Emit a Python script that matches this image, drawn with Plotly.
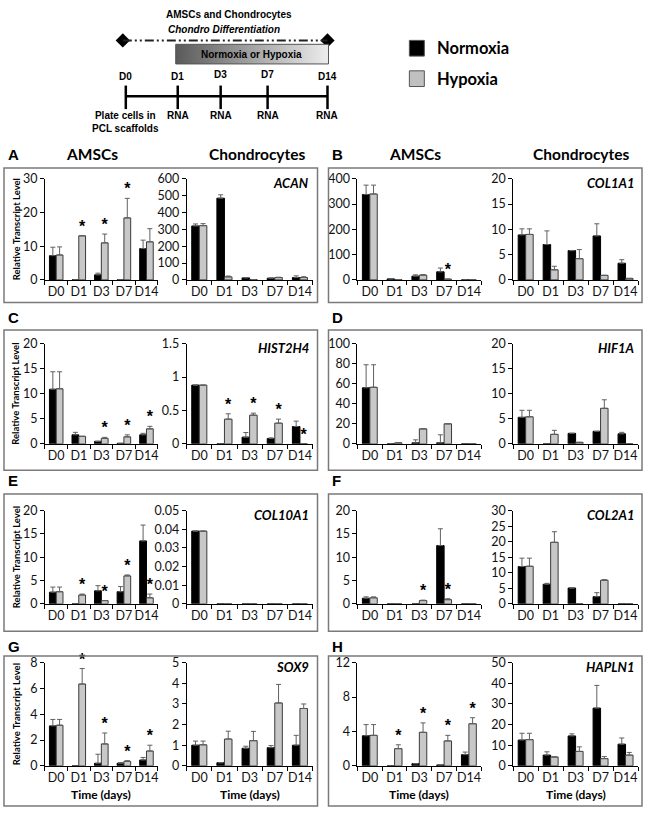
import plotly.graph_objects as go

W, H = 648, 817
days = ["D0", "D1", "D3", "D7", "D14"]

# ---------------- DATA ----------------
# A  ACAN
ACAN_amsc_norm = [7.2, 0, 1.5, 0, 9.3]
ACAN_amsc_norm_err = [2.5, 0, 0.5, 0, 2.5]
ACAN_amsc_hyp = [7.4, 13.1, 11.0, 18.4, 11.3]
ACAN_amsc_hyp_err = [2.4, 0, 2.6, 5.8, 3.9]
ACAN_amsc_sig = [1, 2, 3]
ACAN_chon_norm = [320, 485, 12, 10, 14]
ACAN_chon_norm_err = [12, 20, 2, 2, 10]
ACAN_chon_hyp = [322, 18, 2, 14, 14]
ACAN_chon_hyp_err = [12, 5, 0, 2, 5]
ACAN_chon_sig = []

# B  COL1A1
COL1A1_amsc_norm = [338, 4, 15, 32, 0]
COL1A1_amsc_norm_err = [37, 0, 5, 15, 0]
COL1A1_amsc_hyp = [340, 1, 19, 3, 0]
COL1A1_amsc_hyp_err = [35, 0, 2, 0, 0]
COL1A1_amsc_sig = [3]
COL1A1_chon_norm = [8.9, 7.0, 5.8, 8.7, 3.3]
COL1A1_chon_norm_err = [1.2, 2.7, 0, 2.4, 0.7]
COL1A1_chon_hyp = [9.0, 2.0, 4.2, 0.9, 0.3]
COL1A1_chon_hyp_err = [1.1, 0.7, 1.8, 0, 0]
COL1A1_chon_sig = []

# C  HIST2H4
HIST2H4_amsc_norm = [10.9, 1.8, 0.5, 0.1, 1.8]
HIST2H4_amsc_norm_err = [3.5, 0.5, 0, 0, 0.3]
HIST2H4_amsc_hyp = [11.0, 1.5, 1.1, 1.4, 3.0]
HIST2H4_amsc_hyp_err = [3.4, 0, 0.2, 0.4, 0.5]
HIST2H4_amsc_sig = [2, 3, 4]
HIST2H4_chon_norm = [0.88, 0, 0.1, 0.08, 0.26]
HIST2H4_chon_norm_err = [0, 0, 0.07, 0.01, 0.08]
HIST2H4_chon_hyp = [0.88, 0.37, 0.43, 0.31, 0]
HIST2H4_chon_hyp_err = [0, 0.08, 0.03, 0.06, 0]
HIST2H4_chon_sig = [1, 2, 3, 4]

# D  HIF1A
HIF1A_amsc_norm = [56, 0, 1, 1, 0]
HIF1A_amsc_norm_err = [23, 0, 3, 8, 0]
HIF1A_amsc_hyp = [56.5, 1, 15, 20, 0]
HIF1A_amsc_hyp_err = [22.5, 0, 0, 0, 0]
HIF1A_amsc_sig = []
HIF1A_chon_norm = [5.3, 0, 2.1, 2.5, 2.0]
HIF1A_chon_norm_err = [1.4, 0, 0, 0, 0.3]
HIF1A_chon_hyp = [5.4, 1.9, 0.3, 7.1, 0]
HIF1A_chon_hyp_err = [1.3, 0.8, 0, 1.7, 0]
HIF1A_chon_sig = []

# E  COL10A1
COL10A1_amsc_norm = [2.5, 0, 2.8, 2.6, 13.5]
COL10A1_amsc_norm_err = [1.1, 0, 1.1, 1.1, 3.4]
COL10A1_amsc_hyp = [2.6, 1.9, 0.7, 6.0, 1.3]
COL10A1_amsc_hyp_err = [1.0, 0.2, 0, 0.2, 0.8]
COL10A1_amsc_sig = [1, 2, 3, 4]
COL10A1_chon_norm = [0.039, 0, 0, 0, 0]
COL10A1_chon_norm_err = [0, 0, 0, 0, 0]
COL10A1_chon_hyp = [0.039, 0, 0, 0, 0]
COL10A1_chon_hyp_err = [0, 0, 0, 0, 0]
COL10A1_chon_sig = []

# F  COL2A1
COL2A1_amsc_norm = [1.2, 0, 0, 12.5, 0]
COL2A1_amsc_norm_err = [0.3, 0, 0, 3.6, 0]
COL2A1_amsc_hyp = [1.3, 0, 0.7, 0.9, 0]
COL2A1_amsc_hyp_err = [0.2, 0, 0.1, 0.2, 0]
COL2A1_amsc_sig = [2, 3]
COL2A1_chon_norm = [12.0, 6.3, 5.1, 2.3, 0]
COL2A1_chon_norm_err = [2.7, 0.3, 0, 1.3, 0]
COL2A1_chon_hyp = [12.1, 19.8, 0, 7.6, 0]
COL2A1_chon_hyp_err = [2.6, 3.4, 0, 0.2, 0]
COL2A1_chon_sig = []

# G  SOX9
SOX9_amsc_norm = [3.1, 0, 0.2, 0.2, 0.45]
SOX9_amsc_norm_err = [0.5, 0, 0.7, 0.05, 0.2]
SOX9_amsc_hyp = [3.15, 6.35, 1.7, 0.35, 1.15]
SOX9_amsc_hyp_err = [0.45, 1.2, 0.85, 0.05, 0.45]
SOX9_amsc_sig = [1, 2, 3, 4]
SOX9_chon_norm = [1.0, 0.15, 0.85, 0.88, 1.0]
SOX9_chon_norm_err = [0.2, 0, 0.1, 0.1, 0.48]
SOX9_chon_hyp = [1.02, 1.3, 1.22, 3.05, 2.78]
SOX9_chon_hyp_err = [0.18, 0.38, 0.45, 0.9, 0.22]
SOX9_chon_sig = []

# H  HAPLN1
HAPLN1_amsc_norm = [3.5, 0, 0.25, 0.1, 1.3]
HAPLN1_amsc_norm_err = [1.3, 0, 0, 0, 0.3]
HAPLN1_amsc_hyp = [3.55, 2.0, 3.9, 2.9, 4.9]
HAPLN1_amsc_hyp_err = [1.25, 0.45, 1.1, 0.65, 0.7]
HAPLN1_amsc_sig = [1, 2, 3, 4]
HAPLN1_chon_norm = [12.5, 5.2, 14.5, 28, 10.5]
HAPLN1_chon_norm_err = [3.3, 1.6, 1.0, 11, 3.0]
HAPLN1_chon_hyp = [12.7, 4.3, 7.0, 3.5, 5.2]
HAPLN1_chon_hyp_err = [3.1, 0, 2.2, 1.0, 1.3]
HAPLN1_chon_sig = []

# axis maxima / steps
axis_max = {"ACAN": (30, 600), "COL1A1": (400, 20), "HIST2H4": (20, 1.5), "HIF1A": (100, 20),
            "COL10A1": (20, 0.05), "COL2A1": (20, 30), "SOX9": (8, 5), "HAPLN1": (12, 50)}
axis_step = {"ACAN": (10, 100), "COL1A1": (100, 5), "HIST2H4": (5, 0.5), "HIF1A": (20, 5),
             "COL10A1": (5, 0.01), "COL2A1": (5, 5), "SOX9": (2, 1), "HAPLN1": (4, 10)}

panels = [("A", "ACAN", 0, 0), ("B", "COL1A1", 0, 1), ("C", "HIST2H4", 1, 0), ("D", "HIF1A", 1, 1),
          ("E", "COL10A1", 2, 0), ("F", "COL2A1", 2, 1), ("G", "SOX9", 3, 0), ("H", "HAPLN1", 3, 1)]

# ---------------- LAYOUT GEOMETRY (pixels) ----------------
ROW_Y = [(174, 277), (342, 444), (512, 607), (667, 772)]
COL_X = [[(45, 158), (187, 313)], [(358, 482), (514, 639)]]
BOX_X = [(4, 318), (329, 643)]
BOX_Y = [(163, 300), (328, 471), (495, 635), (660, 813)]
LETTER_Y = [149, 315, 481, 650]

CHART_FONT = "Lato"


def px(x):
    return x / W


def py(y):
    return 1 - y / H


def note(x, y, text, size, family=CHART_FONT, xanchor="center", angle=0, xref="paper", yref="paper"):
    if xref == "paper":
        x, y = px(x), py(y)
    return dict(x=x, y=y, xref=xref, yref=yref, text=text, showarrow=False,
                xanchor=xanchor, yanchor="middle", textangle=angle,
                font=dict(family=family, size=size, color="black"))


fig = go.Figure()
layout = dict(width=W, height=H, margin=dict(l=0, r=0, t=0, b=0),
              paper_bgcolor="white", plot_bgcolor="rgba(0,0,0,0)",
              barmode="overlay", showlegend=False)
shapes = []
annotations = []

BW = 0.3
TICKFONT = dict(family=CHART_FONT, size=12.5, color="#111")
idx = 0
g = globals()
for letter, gene, row, colpair in panels:
    for k, cell in enumerate(["amsc", "chon"]):
        idx += 1
        sfx = "" if idx == 1 else str(idx)
        norm = g[f"{gene}_{cell}_norm"]
        nerr = g[f"{gene}_{cell}_norm_err"]
        hyp = g[f"{gene}_{cell}_hyp"]
        herr = g[f"{gene}_{cell}_hyp_err"]
        sig = g[f"{gene}_{cell}_sig"]
        ymax = axis_max[gene][k]
        dt = axis_step[gene][k]
        x0, x1 = COL_X[colpair][k]
        yt, yb = ROW_Y[row]
        xa, ya = f"x{sfx}", f"y{sfx}"
        pos = list(range(len(days)))
        fig.add_trace(go.Bar(
            x=[p - BW / 2 for p in pos], y=norm, width=BW,
            marker=dict(color="black", line=dict(color="black", width=1)),
            error_y=dict(type="data", symmetric=False,
                         array=[e if e else None for e in nerr],
                         arrayminus=[0] * len(nerr), color="#606060",
                         thickness=1, width=2.5),
            xaxis=xa, yaxis=ya, name="Normoxia", hoverinfo="skip"))
        fig.add_trace(go.Bar(
            x=[p + BW / 2 for p in pos], y=hyp, width=BW,
            marker=dict(color="#c8c8c8", line=dict(color="#3a3a3a", width=1)),
            error_y=dict(type="data", symmetric=False,
                         array=[e if e else None for e in herr],
                         arrayminus=[0] * len(herr), color="#606060",
                         thickness=1, width=2.5),
            xaxis=xa, yaxis=ya, name="Hypoxia", hoverinfo="skip"))
        if sig:
            fig.add_trace(go.Scatter(
                x=[s + BW / 2 for s in sig], y=[hyp[s] + herr[s] for s in sig],
                mode="text", text=["<b>*</b>"] * len(sig), textposition="top center",
                textfont=dict(family="Arial", size=16, color="#000000"),
                xaxis=xa, yaxis=ya, hoverinfo="skip", cliponaxis=False))
        layout[f"xaxis{sfx}"] = dict(
            domain=[px(x0), px(x1)], anchor=ya, range=[-0.5, 4.5],
            tickmode="array", tickvals=pos, ticktext=days, ticks="",
            showline=True, linecolor="black", linewidth=1,
            showgrid=False, zeroline=False,
            minor=dict(tickmode="array", tickvals=[p - 0.5 for p in range(6)],
                       ticks="outside", ticklen=4, tickcolor="black", showgrid=False),
            tickfont=TICKFONT)
        layout[f"yaxis{sfx}"] = dict(
            domain=[py(yb), py(yt)], anchor=xa, range=[0, ymax], dtick=dt, tick0=0,
            ticks="outside", ticklen=4, tickcolor="black",
            showline=True, linecolor="black", linewidth=1,
            showgrid=False, zeroline=False,
            tickfont=TICKFONT)
        if k == 1:
            annotations.append(note(x1 - 2, yt + 4, f"<b><i>{gene}</i></b>", 13, xanchor="right"))
        if row == 3:
            annotations.append(note((x0 + x1) / 2, 801, "<b>Time (days)</b>", 12))
        if k == 0 and colpair == 0:
            annotations.append(note(16, (yt + yb) / 2, "<b>Relative Transcript Level</b>", 9.5,
                                    angle=-90))
    # panel box + letter
    bx0, bx1 = BOX_X[colpair]
    by0, by1 = BOX_Y[row]
    shapes.append(dict(type="rect", xref="paper", yref="paper",
                       x0=px(bx0), x1=px(bx1), y0=py(by1), y1=py(by0),
                       line=dict(color="#7a7a7a", width=1.5)))
    annotations.append(note(bx0 + 2, LETTER_Y[row], f"<b>{letter}</b>", 15, family="Arial",
                            xanchor="left"))
    if row == 0:
        for k, lab in enumerate(["AMSCs", "Chondrocytes"]):
            cxc = {0: [92, 258], 1: [416, 582]}[colpair][k]
            annotations.append(note(cxc, 149, f"<b>{lab}</b>", 15.5))

# ---------------- SCHEMATIC ----------------
idx += 1
cx, cy = f"x{idx}", f"y{idx}"
layout[f"xaxis{idx}"] = dict(domain=[0, 1], range=[0, W], visible=False, anchor=cy, fixedrange=True)
layout[f"yaxis{idx}"] = dict(domain=[0, 1], range=[H, 0], visible=False, anchor=cx, fixedrange=True)

tl_days = ["D0", "D1", "D3", "D7", "D14"]
tl_x = [126, 178, 221, 268, 328]

# dash-dot-dot line with diamonds
shapes.append(dict(type="line", xref=cx, yref=cy, x0=123, x1=328, y0=33, y1=33,
                   line=dict(color="#222", width=2, dash="9px,3px,2px,3px,2px,3px")))
fig.add_trace(go.Scatter(x=[123, 328], y=[33, 33], mode="markers", xaxis=cx, yaxis=cy,
                         marker=dict(symbol="diamond", size=11, color="black"),
                         hoverinfo="skip"))
# gradient box
fig.add_trace(go.Scatter(x=[176, 329, 329, 176, 176], y=[37, 37, 57, 57, 37], mode="lines",
                         fill="toself", xaxis=cx, yaxis=cy, hoverinfo="skip",
                         line=dict(color="#555", width=1),
                         fillgradient=dict(type="horizontal",
                                           colorscale=[[0, "#5a5a5a"], [1, "#ededed"]])))
S = dict(xref=cx, yref=cy, family="Arial")
annotations.append(note(252, 47, "<b>Normoxia or Hypoxia</b>", 10, **S))
annotations.append(note(229, 7, "<b>AMSCs and Chondrocytes</b>", 10, **S))
annotations.append(note(224, 22, "<b><i>Chondro Differentiation</i></b>", 10, **S))
# timeline
shapes.append(dict(type="line", xref=cx, yref=cy, x0=tl_x[0], x1=tl_x[-1], y0=90, y1=90,
                   line=dict(color="black", width=2.5)))
for i, (d, xx) in enumerate(zip(tl_days, tl_x)):
    shapes.append(dict(type="line", xref=cx, yref=cy, x0=xx, x1=xx, y0=79, y1=103,
                       line=dict(color="black", width=2.5)))
    annotations.append(note(xx, 68 if d in ("D3", "D7") else 70, f"<b>{d}</b>", 10, **S))
    annotations.append(note(xx, 116 if i == 0 else 110,
                            "<b>Plate cells in<br>PCL scaffolds</b>" if i == 0 else "<b>RNA</b>",
                            10, **S))
# legend
for lab, col, ly in [("Normoxia", "black", 41), ("Hypoxia", "#c0c0c0", 72)]:
    shapes.append(dict(type="rect", xref=cx, yref=cy, x0=410, x1=425, y0=ly - 8, y1=ly + 8,
                       fillcolor=col, line=dict(color="#555", width=1)))
    annotations.append(note(436, ly, f"<b>{lab}</b>", 16.5, xanchor="left", xref=cx, yref=cy))

layout["shapes"] = shapes
layout["annotations"] = annotations
fig.update_layout(**layout)
fig.write_html("out.html", config={"displayModeBar": False},
               post_script="document.body.style.margin='0px';document.body.style.overflow='hidden';")
